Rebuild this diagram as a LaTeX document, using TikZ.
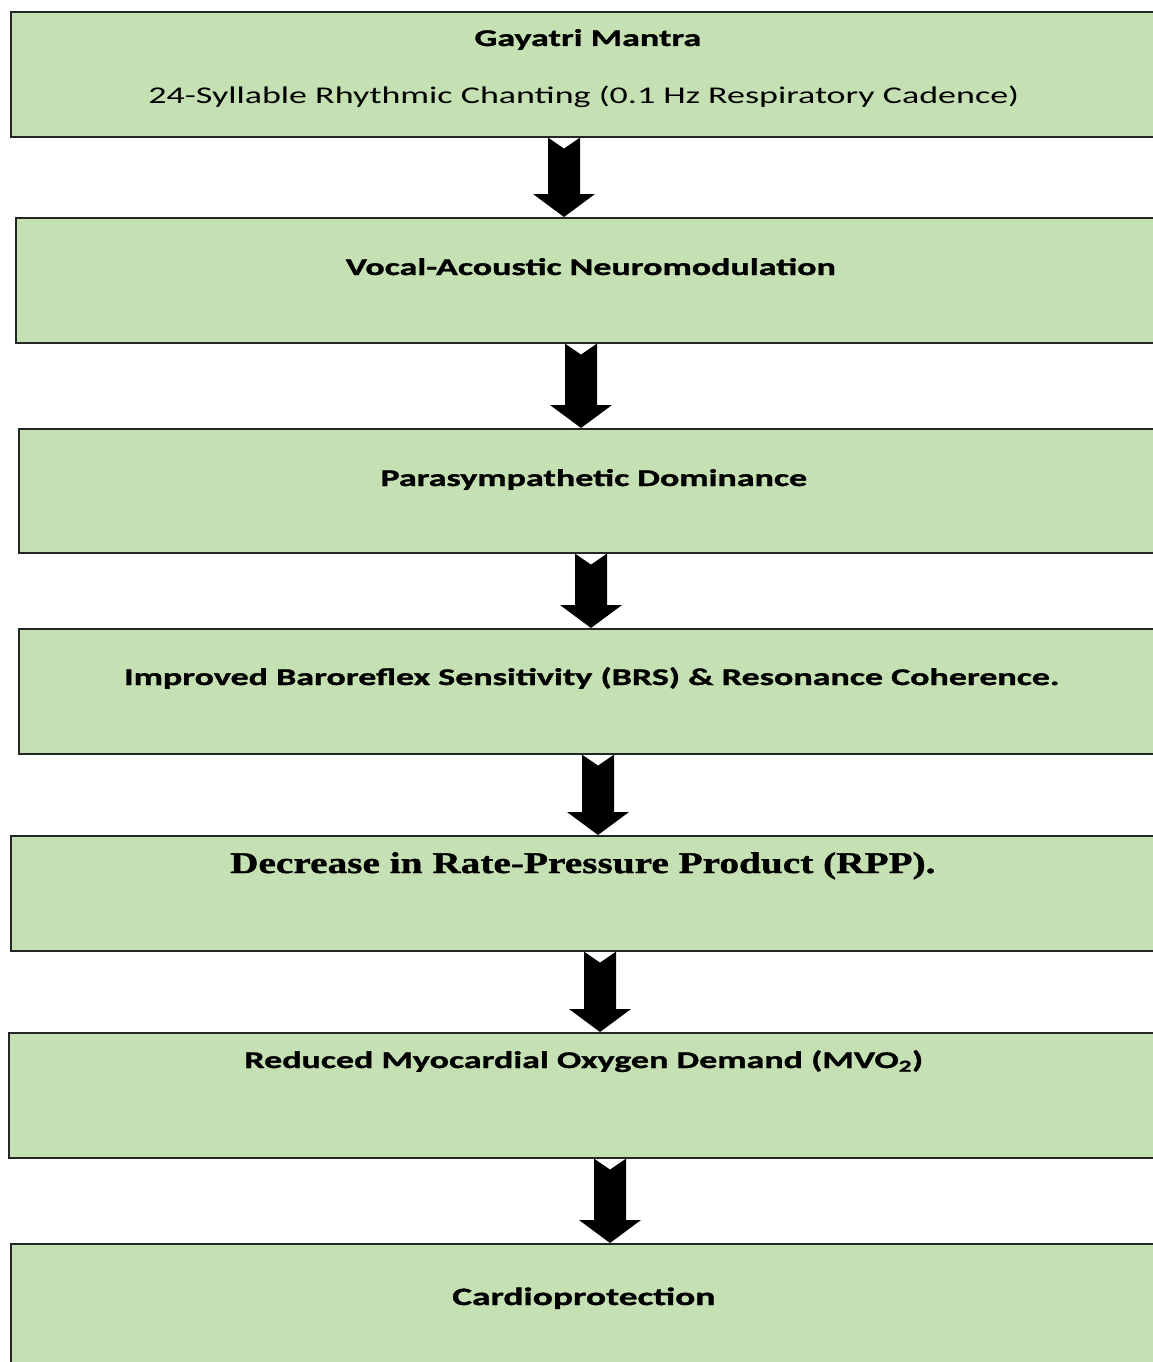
\documentclass[tikz,border=0pt]{standalone}
\usepackage{fontspec}
\setmainfont{Carlito}[FakeStretch=1.5, BoldFeatures={FakeBold=1.2}]
\newfontfamily\rppfont{Liberation Serif}[FakeStretch=1.31, BoldFeatures={FakeBold=1.2}]
\usetikzlibrary{positioning, calc}
\definecolor{boxgreen}{HTML}{C5E0B3}
\tikzset{
  x=1pt, y=-1pt, % pixel-like coordinates, y going down
  stepbox/.style={draw=black!85, line width=1.6pt, fill=boxgreen, anchor=north west,
    minimum width=1150pt, inner sep=0pt}, % the green boxes
  boxtext/.style={anchor=base, font=\fontsize{24}{28}\selectfont\bfseries}, % titles in the boxes
}
% block arrow from the bottom of one box to the top of the next
\newcommand\flowarrow[3]{%
  \fill[black] let \p1=(#1.south), \p2=(#2.north) in
    ({#3pt-16pt},\y1) -- ({#3pt},{\y1-11pt}) -- ({#3pt+16pt},\y1)
    -- ({#3pt+16pt},{\y2+23pt}) -- ({#3pt+31pt},{\y2+23pt}) -- ({#3pt},\y2)
    -- ({#3pt-31pt},{\y2+23pt}) -- ({#3pt-16pt},{\y2+23pt}) -- cycle;}

\begin{document}
\begin{tikzpicture}
  \useasboundingbox (0,0) rectangle (1153,1362);
  \clip (0,0) rectangle (1153,1362);
  \fill[white] (0,0) rectangle (1153,1362);

  % boxes
  \node[stepbox, minimum height=125pt] (b1) at (10,11) {};
  \node[stepbox, minimum height=125pt] (b2) at (15,217) {};
  \node[stepbox, minimum height=124pt] (b3) at (18,428) {};
  \node[stepbox, minimum height=125pt] (b4) at (18,628) {};
  \node[stepbox, minimum height=115pt] (b5) at (10,835) {};
  \node[stepbox, minimum height=125pt] (b6) at (8,1032) {};
  \node[stepbox, minimum height=130pt] (b7) at (10,1243) {};

  % texts
  \node[boxtext] (t1) at ($(b1.north)+(2,35)$) {Gayatri Mantra};
  \node[boxtext, font=\fontsize{24}{28}\selectfont] (t1b) at ($(b1.north)+(-2,93)$)
    {24-Syllable Rhythmic Chanting (0.1 Hz Respiratory Cadence)};
  \node[boxtext] (t2) at ($(b2.north)+(0,58)$) {Vocal-Acoustic Neuromodulation};
  \node[boxtext] (t3) at ($(b3.north)+(0,58)$) {Parasympathetic Dominance};
  \node[boxtext] (t4) at ($(b4.north)+(-2,57)$) {Improved Baroreflex Sensitivity (BRS) \& Resonance Coherence.};
  \node[boxtext, font=\fontsize{30}{34}\selectfont\rppfont\bfseries] (t5) at ($(b5.north)+(-3,38)$)
    {Decrease in Rate-Pressure Product (RPP).};
  \node[boxtext] (t6) at ($(b6.north)+(0,36)$) {Reduced Myocardial Oxygen Demand (MVO\textsubscript{2})};
  \node[boxtext, font=\fontsize{25}{28}\selectfont\bfseries] (t7) at ($(b7.north)+(-2,62)$) {Cardioprotection};

  % arrows
  \flowarrow{b1}{b2}{564}
  \flowarrow{b2}{b3}{581}
  \flowarrow{b3}{b4}{591}
  \flowarrow{b4}{b5}{598}
  \flowarrow{b5}{b6}{600}
  \flowarrow{b6}{b7}{610}
\end{tikzpicture}
\end{document}
